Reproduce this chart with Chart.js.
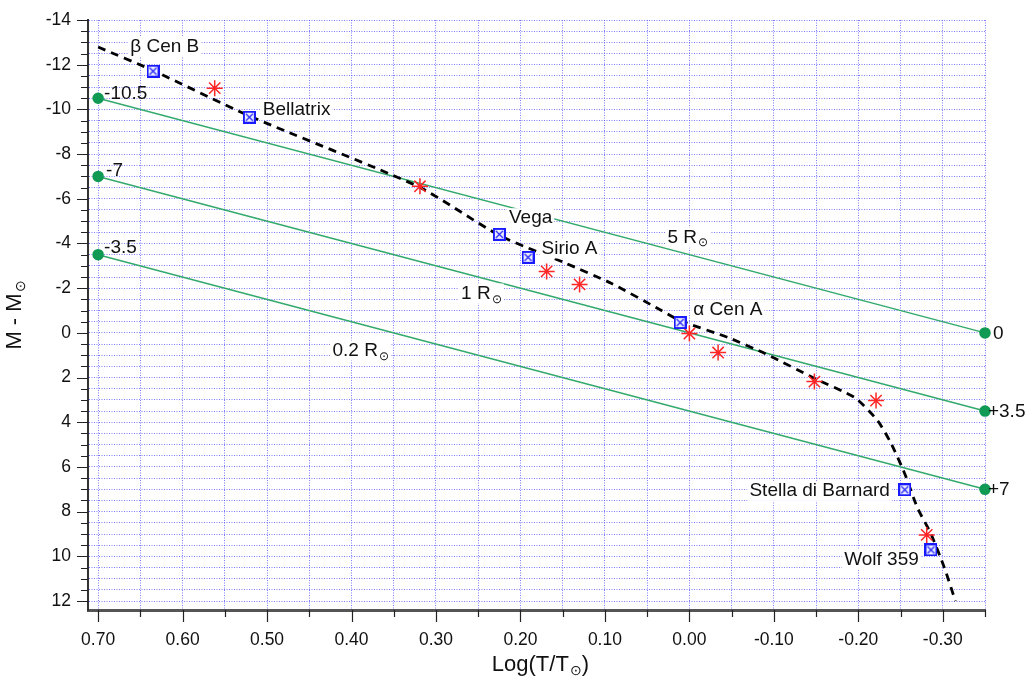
<!DOCTYPE html>
<html lang="it">
<head>
<meta charset="UTF-8">
<title>Diagramma H-R</title>
<script src="https://cdn.jsdelivr.net/npm/chart.js"></script>
<style>
    body { margin: 0; background: #fff; }
    .chart-wrapper { position: relative; width: 1029px; height: 680px; }
</style>
</head>
<body>
<div class="chart-wrapper"><canvas id="hrChart"></canvas></div>
<script>
// axis ticks
const xTicks = [0.70, 0.65, 0.60, 0.55, 0.50, 0.45, 0.40, 0.35, 0.30, 0.25, 0.20, 0.15, 0.10, 0.05, 0.00,
                -0.05, -0.10, -0.15, -0.20, -0.25, -0.30, -0.35];
const xLabelTicks = [0.70, 0.60, 0.50, 0.40, 0.30, 0.20, 0.10, 0.00, -0.10, -0.20, -0.30];
const yLabelTicks = [-14, -12, -10, -8, -6, -4, -2, 0, 2, 4, 6, 8, 10, 12];
const yMinorStep = 0.5;

// constant radius lines (M at log T = 0.70 and at log T = -0.35)
const radiusLogT = [0.70, -0.35];
const radiusStartMag = [-10.5, -7, -3.5];
const radiusEndMag = [0, 3.5, 7];

// main sequence (dashed)
const seqLogT = [0.700, 0.636, 0.523, 0.320, 0.225, 0.146, 0.092, 0.033, 0.011, -0.046, -0.090,
                 -0.149, -0.196, -0.223, -0.239, -0.255, -0.270, -0.286, -0.302, -0.315];
const seqMag  = [-12.79, -11.76, -9.74, -6.53, -4.36, -3.11, -2.21, -1.00, -0.55, 0.21, 0.93,
                 2.05, 2.90, 3.93, 4.96, 6.30, 7.83, 8.99, 10.52, 12.00];

// red asterisks
const starLogT = [0.562, 0.319, 0.169, 0.130, 0.000, -0.034, -0.148, -0.221, -0.281];
const starMag  = [-10.95, -6.56, -2.75, -2.17, 0.03, 0.88, 2.18, 3.03, 9.04];

// named stars (blue squares)
const namedStars = ['β Cen B', 'Bellatrix', 'Vega', 'Sirio A', 'α Cen A', 'Stella di Barnard', 'Wolf 359'];
const namedLogT = [0.635, 0.521, 0.225, 0.191, 0.011, -0.255, -0.286];
const namedMag  = [-11.71, -9.65, -4.41, -3.38, -0.46, 7.02, 9.71];

// text annotations: [text, subscript, logT, mag, align, white backing]
const annotations = [
    ['β Cen B', '', 0.662, -12.79, 'left', true],
    ['Bellatrix', '', 0.505, -9.97, 'left', true],
    ['Vega', '', 0.2136, -5.13, 'left', true],
    ['Sirio A', '', 0.175, -3.78, 'left', true],
    ['α Cen A', '', -0.0047, -1.05, 'left', true],
    ['Stella di Barnard', '', -0.2374, 7.07, 'right', true],
    ['Wolf 359', '', -0.2716, 10.16, 'right', true],
    ['-10.5', '', 0.693, -10.72, 'left', false],
    ['-7', '', 0.6906, -7.27, 'left', false],
    ['-3.5', '', 0.693, -3.81, 'left', false],
    ['0', '', -0.3595, 0.03, 'left', false],
    ['+3.5', '', -0.3535, 3.53, 'left', false],
    ['+7', '', -0.3535, 7.02, 'left', false],
    ['5 R', '⊙', 0.0259, -4.27, 'left', true],
    ['1 R', '⊙', 0.2703, -1.76, 'left', true],
    ['0.2 R', '⊙', 0.4226, 0.79, 'left', true]
];

const yTicks = [];
for (let v = yLabelTicks[0]; v <= yLabelTicks[yLabelTicks.length - 1] + 1e-9; v += yMinorStep) yTicks.push(v);

const FONT = "'Liberation Sans', Arial, Helvetica, sans-serif";
const GREEN_LINE = '#34a96c';
const GREEN_DOT = '#109a54';

function boxedCross(size) {
    const c = document.createElement('canvas');
    c.width = size; c.height = size;
    const g = c.getContext('2d');
    g.fillStyle = '#eef0ff';
    g.fillRect(1, 1, size - 2, size - 2);
    g.strokeStyle = '#1a1aff';
    g.lineWidth = 2;
    g.strokeRect(1, 1, size - 2, size - 2);
    g.lineWidth = 1.1;
    g.beginPath();
    g.moveTo(3, 3); g.lineTo(size - 3, size - 3);
    g.moveTo(size - 3, 3); g.lineTo(3, size - 3);
    g.stroke();
    return c;
}

const radiusSets = radiusStartMag.map((m, i) => ({
    data: [{x: radiusLogT[0], y: m}, {x: radiusLogT[1], y: radiusEndMag[i]}],
    showLine: true,
    borderColor: GREEN_LINE,
    borderWidth: 1.5,
    pointRadius: 5,
    pointBackgroundColor: GREEN_DOT,
    pointBorderColor: GREEN_DOT,
    clip: false,
    order: 5
}));

const datasets = radiusSets.concat([
    {
        data: seqLogT.map((x, i) => ({x, y: seqMag[i]})),
        showLine: true,
        borderColor: '#000',
        borderWidth: 2.8,
        borderDash: [8, 6],
        pointRadius: 0,
        tension: 0.2,
        order: 4
    },
    {
        data: starLogT.map((x, i) => ({x, y: starMag[i]})),
        pointStyle: 'star',
        pointRadius: 8,
        borderColor: '#ff2626',
        borderWidth: 1.5,
        order: 3
    },
    {
        data: namedLogT.map((x, i) => ({x, y: namedMag[i]})),
        pointStyle: boxedCross(13),
        pointRadius: 7,
        order: 2
    }
]);

// draw "main" + small subscript, starting at (x, y) on the baseline-middle
function drawWithSub(ctx, text, sub, x, y, size) {
    ctx.font = size + 'px ' + FONT;
    ctx.fillText(text, x, y);
    const w = ctx.measureText(text).width;
    if (sub) {
        ctx.font = Math.round(size * 0.62) + 'px ' + FONT;
        ctx.fillText(sub, x + w + 1, y + size * 0.3);
    }
}

function widthWithSub(ctx, text, sub, size) {
    ctx.font = size + 'px ' + FONT;
    let w = ctx.measureText(text).width;
    if (sub) {
        ctx.font = Math.round(size * 0.62) + 'px ' + FONT;
        w += ctx.measureText(sub).width + 1;
    }
    return w;
}

const xLabelText = v => (Math.abs(v) < 1e-9 ? '0.00' : v.toFixed(2));

// long/short tick marks outside the axes, x tick labels and the axis titles
const axisDecor = {
    id: 'axisDecor',
    afterDraw(chart) {
        const {ctx, chartArea, scales: {x, y}} = chart;
        ctx.save();
        ctx.strokeStyle = '#222';
        ctx.lineWidth = 1.2;
        ctx.beginPath();
        x.ticks.forEach(t => {
            const px = Math.round(x.getPixelForValue(t.value)) + 0.5;
            const len = xLabelTicks.some(v => Math.abs(v - t.value) < 1e-6) ? 12 : 7;
            ctx.moveTo(px, chartArea.bottom);
            ctx.lineTo(px, chartArea.bottom + len);
        });
        y.ticks.forEach(t => {
            const py = Math.round(y.getPixelForValue(t.value)) + 0.5;
            const len = yLabelTicks.includes(t.value) ? 11 : 7;
            ctx.moveTo(chartArea.left, py);
            ctx.lineTo(chartArea.left - len, py);
        });
        ctx.stroke();

        ctx.fillStyle = '#111';
        ctx.textBaseline = 'middle';
        ctx.textAlign = 'center';
        ctx.font = '17.5px ' + FONT;
        xLabelTicks.forEach(v => {
            ctx.fillText(xLabelText(v), x.getPixelForValue(v), chartArea.bottom + 30);
        });

        ctx.textAlign = 'left';
        const size = 22;
        // x title
        const wx = widthWithSub(ctx, 'Log(T/T', '⊙', size) + widthWithSub(ctx, ')', '', size);
        const cx = (chartArea.left + chartArea.right) / 2 + 4;
        const tx = cx - wx / 2;
        drawWithSub(ctx, 'Log(T/T', '⊙', tx, 665, size);
        drawWithSub(ctx, ')', '', tx + widthWithSub(ctx, 'Log(T/T', '⊙', size), 665, size);
        // y title
        const wy = widthWithSub(ctx, 'M - M', '⊙', size);
        ctx.translate(19, (chartArea.top + chartArea.bottom) / 2);
        ctx.rotate(-Math.PI / 2);
        drawWithSub(ctx, 'M - M', '⊙', -wy / 2, -4, size);
        ctx.restore();
    }
};

// point labels (white backing where they cut through lines)
const textLabels = {
    id: 'textLabels',
    afterDatasetsDraw(chart) {
        const {ctx, scales: {x, y}} = chart;
        const size = 19;
        ctx.save();
        ctx.textBaseline = 'middle';
        ctx.textAlign = 'left';
        annotations.forEach(([text, sub, lx, ly, align, boxed]) => {
            const w = widthWithSub(ctx, text, sub, size);
            const px = x.getPixelForValue(lx);
            const py = y.getPixelForValue(ly);
            const left = align === 'right' ? px - w : px;
            if (boxed) {
                ctx.fillStyle = '#fff';
                ctx.fillRect(left - 2, py - 10, w + 4, 20);
            }
            ctx.fillStyle = '#111';
            drawWithSub(ctx, text, sub, left, py, size);
        });
        ctx.restore();
    }
};

const gridColor = 'rgba(70, 70, 255, 0.7)';

new Chart(document.getElementById('hrChart'), {
    type: 'scatter',
    data: {datasets},
    options: {
        responsive: true,
        maintainAspectRatio: false,
        animation: false,
        layout: {padding: {top: 20, right: 44, left: 0, bottom: 0}},
        plugins: {legend: {display: false}, tooltip: {enabled: false}},
        scales: {
            x: {
                type: 'linear',
                reverse: true,
                min: -0.35,
                max: 0.712,
                afterBuildTicks: axis => { axis.ticks = xTicks.map(v => ({value: v})); },
                afterFit: axis => { axis.height = 70; },
                grid: {color: gridColor, lineWidth: 1, tickLength: 10, tickColor: 'rgba(0,0,0,0)'},
                border: {display: true, color: '#555', width: 3, dash: [1, 1.5]},
                ticks: {display: false, autoSkip: false, maxRotation: 0},
                title: {display: false}
            },
            y: {
                type: 'linear',
                reverse: true,
                min: -14,
                max: 12.4,
                afterBuildTicks: axis => { axis.ticks = yTicks.map(v => ({value: v})); },
                afterFit: axis => { axis.width = 88; },
                grid: {color: gridColor, lineWidth: 1, tickLength: 10, tickColor: 'rgba(0,0,0,0)'},
                border: {display: true, color: '#333', width: 2, dash: [1, 1.5]},
                ticks: {
                    autoSkip: false,
                    padding: 7,
                    color: '#111',
                    font: {family: FONT, size: 17.5},
                    callback: v => yLabelTicks.includes(v) ? String(v) : ''
                },
                title: {display: false}
            }
        }
    },
    plugins: [axisDecor, textLabels]
});
</script>
</body>
</html>
